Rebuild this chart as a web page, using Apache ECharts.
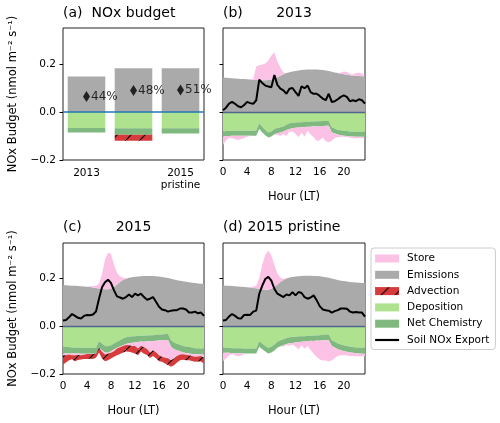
<!DOCTYPE html>
<html><head><meta charset="utf-8">
<script src="https://cdn.jsdelivr.net/npm/echarts@6.0.0/dist/echarts.min.js"></script>
<style>html,body{margin:0;padding:0;background:#fff}#c{width:500px;height:423px}</style>
</head><body><div id="c"></div>
<script>
// ---------- data ----------
const hours = [0,0.5,1,1.5,2,2.5,3,3.5,4,4.5,5,5.5,6,6.5,7,7.5,8,8.5,9,9.5,10,10.5,11,11.5,
  12,12.5,13,13.5,14,14.5,15,15.5,16,16.5,17,17.5,18,18.5,19,19.5,20,20.5,21,21.5,22,22.5,23,23.5];
const hourTickEvery = 4;   // hours between labelled ticks
const yTicks = [-0.2,0,0.2];

// panel (a)
const barCats = ['2013','2015','2015\npristine'];
const barEmis = [0.148,0.182,0.182];
const barDep = [-0.067,-0.068,-0.068];
const barChem = [-0.018,-0.027,-0.022];
const barAdv = [0,-0.025,0];
const soilMean = [0.065,0.090,0.092];
const soilPct = ['44%','48%','51%'];

// panel (b) 2013
const emis13 = [0.144,0.143,0.142,0.141,0.140,0.139,0.138,0.137,0.136,0.135,0.134,0.133,
  0.132,0.132,0.132,0.133,0.135,0.139,0.145,0.151,0.157,0.162,0.166,0.169,
  0.171,0.173,0.175,0.176,0.177,0.177,0.177,0.177,0.176,0.175,0.173,0.171,
  0.168,0.165,0.162,0.159,0.157,0.155,0.153,0.152,0.151,0.150,0.149,0.148];
const storeUp13 = [0,0,0,0,0,0,0,0,0,0.002,0.004,0.057,
  0.063,0.066,0.070,0.082,0.100,0.110,0.065,0.034,0.008,0.001,0,0,
  0,0,0,0,0,0,0,0,0,0,0,0,
  0,0,0,0.006,0.012,0.012,0.005,0.004,0.012,0.014,0.010,0.008];
const dep13 = [-0.081,-0.079,-0.079,-0.078,-0.078,-0.078,-0.078,-0.078,-0.078,-0.078,-0.078,-0.078,
  -0.047,-0.061,-0.075,-0.085,-0.081,-0.071,-0.067,-0.064,-0.060,-0.053,-0.047,-0.046,
  -0.044,-0.043,-0.043,-0.042,-0.042,-0.040,-0.040,-0.039,-0.039,-0.038,-0.038,-0.038,
  -0.064,-0.069,-0.075,-0.076,-0.078,-0.079,-0.081,-0.081,-0.082,-0.082,-0.082,-0.082];
const chem13 = [-0.021,-0.021,-0.021,-0.021,-0.021,-0.021,-0.021,-0.021,-0.021,-0.021,-0.021,-0.021,
  -0.024,-0.024,-0.022,-0.021,-0.021,-0.022,-0.022,-0.021,-0.021,-0.022,-0.024,-0.022,
  -0.022,-0.022,-0.021,-0.021,-0.019,-0.021,-0.019,-0.021,-0.019,-0.021,-0.019,-0.019,
  -0.021,-0.021,-0.019,-0.021,-0.021,-0.021,-0.021,-0.021,-0.021,-0.021,-0.021,-0.021];
const storeDn13 = [-0.035,-0.019,-0.008,-0.010,-0.015,-0.018,-0.014,-0.010,-0.004,-0.001,0,0,
  0,0,0,0,0,-0.001,-0.006,-0.015,-0.011,-0.025,-0.010,-0.013,
  -0.025,-0.040,-0.021,-0.040,-0.017,-0.033,-0.046,-0.060,-0.061,-0.047,-0.065,-0.069,
  -0.035,-0.018,-0.011,-0.006,-0.004,-0.004,-0.004,-0.007,-0.006,-0.006,-0.006,-0.006];
const soil13 = [0.007,0.018,0.035,0.042,0.034,0.024,0.020,0.029,0.042,0.037,0.034,0.049,
  0.135,0.121,0.110,0.106,0.103,0.154,0.113,0.097,0.090,0.076,0.097,0.100,
  0.083,0.067,0.107,0.099,0.110,0.083,0.076,0.076,0.067,0.056,0.049,0.076,
  0.042,0.045,0.053,0.063,0.069,0.063,0.045,0.049,0.045,0.053,0.049,0.035];

// panel (c) 2015
const emis15 = [0.174,0.173,0.172,0.171,0.170,0.169,0.168,0.167,0.166,0.165,0.163,0.161,
  0.159,0.157,0.156,0.156,0.159,0.166,0.176,0.186,0.195,0.200,0.204,0.206,
  0.208,0.209,0.210,0.211,0.211,0.211,0.211,0.210,0.209,0.207,0.205,0.203,
  0.200,0.197,0.194,0.191,0.189,0.187,0.185,0.183,0.182,0.180,0.179,0.178];
const storeUp15 = [0,0,0,0,0,0,0,0,0,0.003,0.006,0.010,
  0.020,0.063,0.124,0.153,0.145,0.093,0.049,0.024,0.009,0.002,0,0,
  0,0,0,0,0,0,0,0,0,0,0,0,
  0,0,0,0,0,0,0,0,0,0,0,0];
const dep15 = [-0.086,-0.087,-0.087,-0.089,-0.089,-0.089,-0.090,-0.090,-0.090,-0.090,-0.090,-0.090,
  -0.062,-0.072,-0.082,-0.083,-0.079,-0.072,-0.065,-0.058,-0.051,-0.046,-0.044,-0.042,
  -0.041,-0.039,-0.039,-0.038,-0.038,-0.037,-0.037,-0.035,-0.034,-0.034,-0.032,-0.032,
  -0.058,-0.068,-0.073,-0.077,-0.082,-0.085,-0.087,-0.089,-0.092,-0.092,-0.093,-0.093];
const chem15 = [-0.028,-0.027,-0.027,-0.025,-0.025,-0.025,-0.025,-0.025,-0.025,-0.025,-0.025,-0.025,
  -0.028,-0.028,-0.028,-0.028,-0.025,-0.025,-0.025,-0.027,-0.028,-0.028,-0.027,-0.027,
  -0.027,-0.027,-0.025,-0.027,-0.025,-0.025,-0.025,-0.025,-0.025,-0.024,-0.025,-0.025,
  -0.028,-0.028,-0.027,-0.028,-0.028,-0.027,-0.027,-0.027,-0.025,-0.025,-0.025,-0.025];
const storeDn15 = [-0.007,-0.007,-0.004,-0.007,-0.007,-0.006,-0.006,-0.004,-0.001,-0.001,-0.001,0,
  0,-0.007,-0.008,-0.004,-0.007,-0.007,-0.003,-0.003,-0.003,-0.004,-0.008,-0.013,
  -0.014,-0.027,-0.017,-0.023,-0.032,-0.048,-0.038,-0.049,-0.062,-0.070,-0.075,-0.077,
  -0.056,-0.039,-0.024,-0.013,-0.007,-0.007,-0.007,-0.008,-0.011,-0.010,-0.006,-0.014];
const adv15 = [-0.039,-0.031,-0.024,-0.017,-0.025,-0.021,-0.018,-0.018,-0.021,-0.020,-0.021,-0.017,
  -0.020,-0.028,-0.028,-0.027,-0.024,-0.024,-0.028,-0.028,-0.028,-0.028,-0.028,-0.028,
  -0.032,-0.028,-0.025,-0.027,-0.025,-0.023,-0.024,-0.025,-0.025,-0.021,-0.024,-0.028,
  -0.028,-0.028,-0.028,-0.024,-0.023,-0.023,-0.021,-0.021,-0.021,-0.021,-0.023,-0.024];
const soil15 = [0.025,0.027,0.038,0.052,0.044,0.036,0.033,0.044,0.048,0.047,0.050,0.062,
  0.116,0.164,0.185,0.196,0.182,0.151,0.126,0.121,0.116,0.123,0.134,0.123,
  0.137,0.130,0.137,0.123,0.112,0.116,0.123,0.103,0.082,0.071,0.068,0.062,
  0.066,0.068,0.068,0.075,0.075,0.071,0.058,0.058,0.062,0.055,0.058,0.044];

// panel (d) 2015 pristine
const emisP = [0.172,0.171,0.170,0.169,0.168,0.167,0.166,0.165,0.164,0.163,0.161,0.160,
  0.158,0.156,0.154,0.154,0.158,0.166,0.176,0.186,0.195,0.201,0.205,0.207,
  0.209,0.210,0.211,0.212,0.212,0.212,0.211,0.211,0.210,0.208,0.206,0.204,
  0.201,0.198,0.195,0.192,0.190,0.188,0.186,0.185,0.184,0.183,0.182,0.181];
const storeUpP = [0,0,0,0,0,0,0,0,0,0.002,0.005,0.010,
  0.044,0.104,0.147,0.165,0.140,0.092,0.047,0.018,0.005,0.001,0,0,
  0,0,0,0,0,0,0,0,0,0,0,0,
  0,0,0,0,0,0,0,0,0,0,0,0];
const depP = [-0.090,-0.090,-0.090,-0.092,-0.092,-0.092,-0.092,-0.093,-0.093,-0.093,-0.093,-0.093,
  -0.062,-0.072,-0.082,-0.090,-0.086,-0.076,-0.065,-0.058,-0.054,-0.049,-0.046,-0.045,
  -0.044,-0.042,-0.042,-0.041,-0.039,-0.039,-0.038,-0.038,-0.037,-0.035,-0.034,-0.034,
  -0.058,-0.065,-0.072,-0.076,-0.079,-0.082,-0.085,-0.087,-0.089,-0.089,-0.090,-0.090];
const chemP = [-0.021,-0.021,-0.021,-0.021,-0.021,-0.021,-0.021,-0.021,-0.021,-0.021,-0.021,-0.021,
  -0.024,-0.024,-0.024,-0.024,-0.024,-0.025,-0.025,-0.025,-0.025,-0.025,-0.025,-0.025,
  -0.024,-0.024,-0.023,-0.023,-0.023,-0.021,-0.023,-0.021,-0.023,-0.023,-0.024,-0.024,
  -0.024,-0.024,-0.024,-0.024,-0.025,-0.025,-0.025,-0.024,-0.025,-0.025,-0.025,-0.025];
const storeDnP = [-0.035,-0.024,-0.010,-0.003,-0.008,-0.013,-0.010,-0.001,0,0,0,0,
  0,0,0,0,0,0,0,0,-0.007,-0.004,-0.010,-0.006,
  -0.018,-0.030,-0.014,-0.030,-0.020,-0.039,-0.054,-0.069,-0.079,-0.085,-0.085,-0.089,
  -0.061,-0.044,-0.028,-0.021,-0.017,-0.015,-0.014,-0.013,-0.011,-0.011,-0.010,-0.010];
const soilP = [0.025,0.027,0.041,0.052,0.044,0.034,0.033,0.048,0.049,0.048,0.062,0.066,
  0.137,0.171,0.199,0.208,0.192,0.158,0.137,0.130,0.123,0.134,0.130,0.144,
  0.130,0.144,0.140,0.123,0.116,0.121,0.130,0.110,0.085,0.071,0.068,0.066,
  0.058,0.064,0.068,0.075,0.075,0.074,0.062,0.058,0.060,0.058,0.058,0.041];

// ---------- style ----------
const FONT = 'DejaVu Sans';
const C = {store:'#fbc2e5', emis:'#aaaaaa', adv:'#d73b3b', dep:'#aee28e', chem:'#80b97f', soil:'#000000'};
const yName = 'NOx Budget (nmol m\u207B\u00B2 s\u207B\u00B9)';

const hatchCanvas = document.createElement('canvas');
hatchCanvas.width = 14; hatchCanvas.height = 14;
(function(){
  const g = hatchCanvas.getContext('2d');
  g.fillStyle = C.adv; g.fillRect(0,0,14,14);
  g.strokeStyle = '#000'; g.lineWidth = 1.1;
  g.beginPath(); g.moveTo(-1,15); g.lineTo(15,-1); g.stroke();
})();
const hatch = {image: hatchCanvas, repeat: 'repeat'};

const grids = [
  {left:63, top:28, width:141, height:132},
  {left:223, top:28, width:142, height:132},
  {left:63, top:243, width:141, height:131},
  {left:223, top:243, width:142, height:131}
].map(g => Object.assign({show:true, borderColor:'#222', borderWidth:1, backgroundColor:'transparent'}, g));

function fmtY(v){ if (Math.abs(v) < 1e-9) return '0.0'; return (v < 0 ? '\u2212' : '') + Math.abs(v).toFixed(1); }

function yAxis(gi, labels){
  return {type:'value', gridIndex:gi, min:-0.2, max:0.35,
    axisLine:{show:false}, splitLine:{show:false},
    axisTick:{show:true, length:3.5, lineStyle:{color:'#000'}, customValues:yTicks},
    axisLabel:{show:labels, customValues:yTicks, formatter:fmtY, color:'#000', fontSize:10.5, fontFamily:FONT, margin:7},
    name: labels ? yName : '', nameLocation:'middle', nameGap:44,
    nameTextStyle:{color:'#000', fontSize:11.5, fontFamily:FONT}};
}
const hourStep = hourTickEvery / (hours[1] - hours[0]);
const onHourTick = (idx) => idx % hourStep === 0;
function hourAxis(gi){
  return {type:'category', gridIndex:gi, data:hours.map(String), boundaryGap:false,
    axisLine:{show:false}, splitLine:{show:false},
    axisTick:{show:true, length:3.5, lineStyle:{color:'#000'}, interval:onHourTick},
    axisLabel:{interval:onHourTick, color:'#000', fontSize:10.5, fontFamily:FONT, margin:7},
    name:'Hour (LT)', nameLocation:'middle', nameGap:31,
    nameTextStyle:{color:'#000', fontSize:11.5, fontFamily:FONT}};
}

function area(name, gi, stack, arr, color){
  return {type:'line', name, xAxisIndex:gi, yAxisIndex:gi, stack, data:arr,
    symbol:'none', lineStyle:{width:0, opacity:0}, itemStyle:{color: typeof color === 'string' ? color : C.adv},
    areaStyle:{color, opacity:1}, silent:true};
}
function zeroLine(color, width){
  return {silent:true, symbol:'none', label:{show:false}, animation:false,
    lineStyle:{color, width, type:'solid'}, data:[{yAxis:0}]};
}
function timePanel(gi, E, Sup, D, Ch, Sdn, A, soil){
  const s = [
    area('Emissions', gi, 'pos'+gi, E, C.emis),
    area('Store', gi, 'pos'+gi, Sup, C.store),
    area('Deposition', gi, 'neg'+gi, D, C.dep),
    area('Net Chemistry', gi, 'neg'+gi, Ch, C.chem),
    area('Store', gi, 'neg'+gi, Sdn, C.store)
  ];
  if (A) s.push(area('Advection', gi, 'neg'+gi, A, hatch));
  s.push({type:'line', name:'Soil NOx Export', xAxisIndex:gi, yAxisIndex:gi, data:soil,
    symbol:'none', lineStyle:{color:C.soil, width:2}, itemStyle:{color:C.soil}, z:5,
    markLine: zeroLine('#52658f', 1.4)});
  return s;
}

const series = [
  {type:'bar', name:'Emissions', xAxisIndex:0, yAxisIndex:0, stack:'a', data:barEmis, barWidth:'80%', itemStyle:{color:C.emis}},
  {type:'bar', name:'Deposition', xAxisIndex:0, yAxisIndex:0, stack:'a', data:barDep, barWidth:'80%', itemStyle:{color:C.dep}},
  {type:'bar', name:'Net Chemistry', xAxisIndex:0, yAxisIndex:0, stack:'a', data:barChem, barWidth:'80%', itemStyle:{color:C.chem}},
  {type:'bar', name:'Advection', xAxisIndex:0, yAxisIndex:0, stack:'a', data:barAdv, barWidth:'80%', itemStyle:{color:hatch}},
  {type:'scatter', name:'soilmean', xAxisIndex:0, yAxisIndex:0, data:soilMean, symbol:'diamond', symbolSize:[7,11],
    itemStyle:{color:'#000'}, z:5,
    label:{show:true, position:'right', distance:1, color:'#000', fontSize:12, fontFamily:FONT,
      formatter: p => soilPct[p.dataIndex]},
    markLine: zeroLine('#1f77b4', 1.6)}
].concat(
  timePanel(1, emis13, storeUp13, dep13, chem13, storeDn13, null, soil13),
  timePanel(2, emis15, storeUp15, dep15, chem15, storeDn15, adv15, soil15),
  timePanel(3, emisP, storeUpP, depP, chemP, storeDnP, null, soilP)
);

const titleFont = '14px "DejaVu Sans"';
function txt(x, y, text, align){
  return {type:'text', x, y, style:{text, fill:'#000', font:titleFont, textAlign:align, textVerticalAlign:'middle'}};
}

const option = {
  animation:false,
  textStyle:{fontFamily:FONT},
  grid: grids,
  xAxis: [
    {type:'category', gridIndex:0, data:barCats,
      axisLine:{show:false}, splitLine:{show:false},
      axisTick:{show:true, alignWithLabel:true, length:3.5, lineStyle:{color:'#000'}},
      axisLabel:{color:'#000', fontSize:10.5, fontFamily:FONT, margin:7, lineHeight:12}},
    hourAxis(1), hourAxis(2), hourAxis(3)
  ],
  yAxis: [yAxis(0,true), yAxis(1,false), yAxis(2,true), yAxis(3,false)],
  legend: {
    orient:'vertical', left:371, top:248, itemWidth:24, itemHeight:8, itemGap:5.3,
    padding:[5,6,4,3], borderColor:'#cccccc', borderWidth:1, borderRadius:3, backgroundColor:'#fff',
    selectedMode:false,
    textStyle:{color:'#000', fontSize:10.5, fontFamily:FONT, padding:[0,0,0,3]},
    data:[
      {name:'Store', icon:'rect', itemStyle:{color:C.store}},
      {name:'Emissions', icon:'rect', itemStyle:{color:C.emis}},
      {name:'Advection', icon:'rect', itemStyle:{color:hatch}},
      {name:'Deposition', icon:'rect', itemStyle:{color:C.dep}},
      {name:'Net Chemistry', icon:'rect', itemStyle:{color:C.chem}},
      {name:'Soil NOx Export', itemStyle:{opacity:0}, lineStyle:{color:'#000', width:2.2}}
    ]
  },
  graphic: [
    txt(63, 13, '(a)', 'left'), txt(133.5, 13, 'NOx budget', 'center'),
    txt(223, 13, '(b)', 'left'), txt(294, 13, '2013', 'center'),
    txt(63, 227, '(c)', 'left'), txt(133.5, 227, '2015', 'center'),
    txt(223, 227, '(d)', 'left'), txt(294, 227, '2015 pristine', 'center')
  ],
  series
};

const chart = echarts.init(document.getElementById('c'), null, {renderer:'canvas'});
chart.setOption(option);
</script></body></html>
